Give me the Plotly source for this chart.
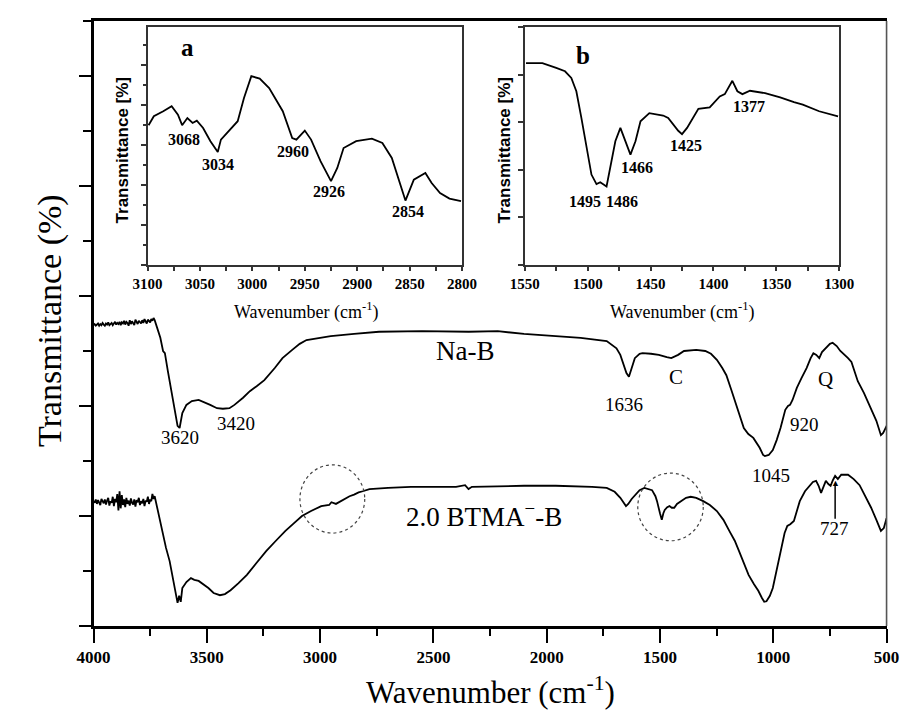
import plotly.graph_objects as go

# ---------------- data ----------------
# noisy plateau at the high-wavenumber end (shared grid)
noise_wn = [4000, 3995, 3990, 3985, 3980, 3975, 3970, 3965, 3960, 3955,
            3950, 3945, 3940, 3935, 3930, 3925, 3920, 3915, 3910, 3905,
            3900, 3895, 3890, 3885, 3880, 3875, 3870, 3865, 3860, 3855,
            3850, 3845, 3840, 3835, 3830, 3825, 3820, 3815, 3810, 3805,
            3800, 3795, 3790, 3785, 3780, 3775, 3770, 3765, 3760, 3755,
            3750, 3745, 3740, 3735, 3730]
nab_noise_t = [5.47, 5.49, 5.46, 5.48, 5.50, 5.46, 5.49, 5.47, 5.51, 5.48,
               5.46, 5.50, 5.48, 5.52, 5.47, 5.49, 5.51, 5.47, 5.50, 5.53,
               5.48, 5.51, 5.49, 5.53, 5.47, 5.52, 5.50, 5.55, 5.48, 5.53,
               5.51, 5.46, 5.56, 5.49, 5.54, 5.50, 5.47, 5.57, 5.51, 5.49,
               5.55, 5.52, 5.50, 5.56, 5.51, 5.58, 5.53, 5.50, 5.57, 5.54,
               5.52, 5.58, 5.55, 5.60, 5.56]
btma_noise_t = [2.27, 2.24, 2.30, 2.22, 2.29, 2.25, 2.20, 2.31, 2.26, 2.23,
                2.30, 2.21, 2.28, 2.33, 2.19, 2.27, 2.24, 2.35, 2.18, 2.31,
                2.25, 2.40, 2.10, 2.45, 2.14, 2.38, 2.20, 2.30, 2.16, 2.33,
                2.22, 2.28, 2.19, 2.32, 2.24, 2.21, 2.30, 2.17, 2.29, 2.25,
                2.33, 2.20, 2.27, 2.23, 2.31, 2.18, 2.28, 2.26, 2.35, 2.22,
                2.30, 2.27, 2.40, 2.31, 2.36]

# main spectrum, Na-B
nab_wn = [3719, 3705, 3693, 3685, 3672, 3650, 3629, 3620, 3608, 3590, 3566, 3536, 3510, 3485, 3455,
          3429, 3400, 3378, 3340, 3310, 3280, 3246, 3200, 3166, 3123, 3090, 3060, 3000, 2953, 2850,
          2740, 2550, 2344, 2216, 2100, 1960, 1850, 1735, 1692, 1675, 1662, 1648, 1637, 1625, 1611,
          1590, 1577, 1540, 1505, 1470, 1450, 1420, 1394, 1340, 1300, 1275, 1249, 1225, 1207, 1185,
          1164, 1145, 1130, 1110, 1088, 1060, 1045, 1037, 1020, 1002, 985, 968, 947, 935, 926, 915,
          896, 875, 853, 835, 823, 810, 797, 785, 768, 750, 738, 720, 704, 690, 670, 655, 640, 627,
          600, 568, 545, 525, 515, 504, 500]
nab_t = [5.42, 5.24, 5.00, 4.96, 4.64, 4.15, 3.64, 3.60, 3.87, 4.02, 4.09, 4.11, 4.07, 4.02, 3.96,
         3.95, 3.96, 4.02, 4.15, 4.27, 4.36, 4.47, 4.69, 4.87, 5.02, 5.13, 5.20, 5.24, 5.27, 5.31,
         5.35, 5.36, 5.35, 5.36, 5.31, 5.27, 5.24, 5.18, 5.05, 4.93, 4.75, 4.60, 4.53, 4.69, 4.87,
         4.95, 4.96, 4.95, 4.93, 4.89, 4.87, 4.93, 5.00, 5.02, 5.00, 4.95, 4.84, 4.69, 4.56, 4.29,
         4.02, 3.78, 3.60, 3.49, 3.42, 3.24, 3.11, 3.09, 3.11, 3.20, 3.38, 3.60, 3.93, 4.00, 4.02, 4.11,
         4.33, 4.51, 4.69, 4.87, 4.96, 4.93, 4.87, 4.98, 5.05, 5.13, 5.15, 5.09, 5.00, 4.95, 4.87, 4.80,
         4.62, 4.45, 4.24, 3.96, 3.73, 3.47, 3.51, 3.60, 3.64]

# main spectrum, 2.0 BTMA--B
btma_wn = [3719, 3705, 3693, 3680, 3664, 3645, 3632, 3629, 3622, 3615, 3608, 3590, 3570, 3555, 3536,
           3510, 3493, 3470, 3442, 3420, 3395, 3360, 3323, 3280, 3238, 3195, 3153, 3115, 3080, 3040,
           2995, 2960, 2950, 2930, 2910, 2890, 2870, 2850, 2830, 2812, 2782, 2700, 2599, 2400, 2360,
           2345, 2330, 2100, 1960, 1800, 1735, 1700, 1675, 1650, 1640, 1625, 1611, 1590, 1569, 1548,
           1535, 1520, 1513, 1500, 1492, 1485, 1479, 1468, 1458, 1448, 1437, 1425, 1407, 1385, 1364,
           1340, 1309, 1280, 1249, 1220, 1194, 1170, 1151, 1130, 1109, 1085, 1066, 1050, 1040, 1030,
           1015, 1002, 985, 968, 950, 938, 925, 909, 895, 883, 860, 840, 825, 811, 800, 789, 778, 768,
           757, 747, 737, 727, 715, 700, 670, 645, 619, 595, 568, 545, 525, 512, 504, 500]
btma_t = [2.15, 1.91, 1.65, 1.42, 1.18, 0.78, 0.47, 0.42, 0.55, 0.44, 0.69, 0.80, 0.87, 0.84, 0.82,
          0.75, 0.69, 0.60, 0.56, 0.58, 0.65, 0.78, 0.93, 1.15, 1.36, 1.55, 1.73, 1.87, 2.00, 2.09,
          2.18, 2.20, 2.25, 2.22, 2.27, 2.31, 2.36, 2.39, 2.43, 2.45, 2.49, 2.51, 2.53, 2.53, 2.56,
          2.49, 2.53, 2.55, 2.55, 2.53, 2.51, 2.44, 2.33, 2.18, 2.22, 2.31, 2.38, 2.47, 2.51, 2.49,
          2.47, 2.36, 2.27, 2.05, 1.93, 2.05, 2.11, 2.16, 2.18, 2.15, 2.15, 2.22, 2.27, 2.33, 2.35,
          2.33, 2.27, 2.20, 2.09, 1.93, 1.73, 1.55, 1.36, 1.15, 0.93, 0.76, 0.64, 0.51, 0.44, 0.45,
          0.55, 0.69, 1.00, 1.36, 1.69, 1.82, 1.85, 1.91, 2.09, 2.27, 2.45, 2.56, 2.62, 2.64, 2.55,
          2.42, 2.55, 2.64, 2.58, 2.55, 2.65, 2.73, 2.67, 2.75, 2.75, 2.67, 2.56, 2.38, 2.15, 1.93,
          1.73, 1.78, 1.91, 1.96]

# inset a (3100-2800 cm-1)
a_wn = [3099, 3094, 3085, 3077, 3071, 3067, 3062, 3057, 3053, 3047, 3040, 3033, 3030, 3024, 3014,
        3008, 3001, 2993, 2984, 2971, 2962, 2958, 2950, 2944, 2935, 2925, 2919, 2913, 2901, 2886,
        2876, 2867, 2860, 2854, 2846, 2835, 2829, 2821, 2812, 2801]
a_t = [6.99, 7.44, 7.69, 7.94, 7.52, 6.99, 7.35, 7.10, 7.22, 6.85, 6.19, 5.65, 6.27, 6.60, 7.19,
       8.35, 9.44, 9.32, 8.85, 7.69, 6.35, 6.27, 6.72, 6.27, 5.19, 4.19, 4.85, 5.85, 6.19, 6.32,
       6.10, 5.35, 4.19, 3.22, 4.27, 4.60, 4.10, 3.60, 3.32, 3.19]

# inset b (1550-1300 cm-1)
b_wn = [1549, 1536, 1525, 1518, 1513, 1509, 1505, 1501, 1497, 1493, 1490, 1485, 1482, 1478, 1474,
        1470, 1466, 1462, 1458, 1451, 1440, 1436, 1428, 1425, 1421, 1412, 1403, 1395, 1391, 1385,
        1381, 1377, 1371, 1359, 1347, 1336, 1329, 1316, 1301]
b_t = [4.24, 4.24, 4.14, 4.07, 3.93, 3.65, 3.09, 2.46, 1.90, 1.70, 1.74, 1.65, 2.04, 2.60, 2.88,
       2.60, 2.32, 2.60, 3.02, 3.19, 3.14, 3.09, 2.82, 2.75, 2.88, 3.28, 3.31, 3.54, 3.59, 3.87,
       3.65, 3.59, 3.66, 3.61, 3.52, 3.42, 3.37, 3.23, 3.12]

# tick labels
main_ticks = [4000, 3500, 3000, 2500, 2000, 1500, 1000, 500]
a_ticks = [3100, 3050, 3000, 2950, 2900, 2850, 2800]
b_ticks = [1550, 1500, 1450, 1400, 1350, 1300]

# peak labels: (text, wavenumber, transmittance)
main_labels = [("3620", 3617, 3.42), ("3420", 3370, 3.69), ("1636", 1658, 4.02),
               ("1045", 1011, 2.73), ("920", 862, 3.67), ("727", 730, 1.78)]
main_letters = [("C", 1428, 4.53), ("Q", 768, 4.49)]
series_labels = [("Na-B", 2361, 5.0), ("2.0 BTMA<sup>\u2212</sup>-B", 2276, 2.02)]
a_labels = [("3068", 3065, 6.25), ("3034", 3033, 5.0), ("2960", 2961, 5.65),
            ("2926", 2927, 3.65), ("2854", 2852, 2.65)]
b_labels = [("1495", 1502.5, 1.34), ("1486", 1472.5, 1.34), ("1466", 1461, 2.04),
            ("1425", 1422, 2.50), ("1377", 1372, 3.34)]

# ---------------- figure ----------------
W, H = 909, 713
SERIF = "Liberation Serif"
SANS = "Liberation Sans"


def px_dom(a, b, total):
    return [a / total, b / total]


def py_dom(top, bottom):
    return [1 - bottom / H, 1 - top / H]


fig = go.Figure()
line = dict(color="black", width=1.8)
fig.add_trace(go.Scatter(x=noise_wn + nab_wn, y=nab_noise_t + nab_t, mode="lines",
                         line=line, xaxis="x", yaxis="y", showlegend=False))
fig.add_trace(go.Scatter(x=noise_wn + btma_wn, y=btma_noise_t + btma_t, mode="lines",
                         line=line, xaxis="x", yaxis="y", showlegend=False))
fig.add_trace(go.Scatter(x=a_wn, y=a_t, mode="lines", line=dict(color="black", width=1.8),
                         xaxis="x2", yaxis="y2", showlegend=False))
fig.add_trace(go.Scatter(x=b_wn, y=b_t, mode="lines", line=dict(color="black", width=1.8),
                         xaxis="x3", yaxis="y3", showlegend=False))

tickfont_main = dict(family=SERIF, size=17, color="black", weight="bold")
tickfont_in = dict(family=SERIF, size=15, color="black", weight="bold")

fig.update_layout(
    width=W, height=H, margin=dict(l=0, r=0, t=0, b=0),
    paper_bgcolor="white", plot_bgcolor="white", showlegend=False,
    xaxis=dict(domain=px_dom(71, 893, W), range=[4000, 500], tickmode="array",
               tickvals=main_ticks, ticktext=[str(v) for v in main_ticks],
               ticks="outside", ticklen=14, tickwidth=2, tickcolor="black",
               minor=dict(dtick=250, tick0=500, ticks="outside", ticklen=7, tickwidth=2,
                          tickcolor="black"),
               showline=True, linecolor="black", linewidth=2.5, mirror=True,
               showgrid=False, zeroline=False, tickfont=tickfont_main, anchor="y"),
    yaxis=dict(domain=py_dom(13, 618), range=[0, 11], tickmode="array",
               tickvals=[0, 2, 4, 6, 8, 10], showticklabels=False,
               ticks="outside", ticklen=12, tickwidth=2, tickcolor="black",
               minor=dict(dtick=1, tick0=0, ticks="outside", ticklen=8, tickwidth=2,
                          tickcolor="black"),
               showline=True, linecolor="black", linewidth=2.5, mirror=False,
               showgrid=False, zeroline=False, anchor="x"),
    xaxis2=dict(domain=px_dom(127, 453, W), range=[3100, 2800], tickmode="array",
                tickvals=a_ticks, ticktext=[str(v) for v in a_ticks],
                ticks="outside", ticklen=4, tickwidth=1.5, tickcolor="#333",
                minor=dict(dtick=25, tick0=2800, ticks="outside", ticklen=4, tickwidth=1.5,
                           tickcolor="#333"),
                showline=True, linecolor="#333", linewidth=1.5, mirror=True,
                showgrid=False, zeroline=False, tickfont=tickfont_in, anchor="y2"),
    yaxis2=dict(domain=py_dom(19, 257), range=[0, 11.9], tickmode="array",
                tickvals=[0, 2, 4, 6, 8, 10], showticklabels=False,
                ticks="outside", ticklen=5, tickwidth=1.5, tickcolor="#333",
                minor=dict(dtick=1, tick0=0, ticks="outside", ticklen=3, tickwidth=1.5,
                           tickcolor="#333"),
                showline=True, linecolor="#333", linewidth=1.5, mirror=True,
                showgrid=False, zeroline=False, anchor="x2"),
    xaxis3=dict(domain=px_dom(518, 844, W), range=[1550, 1300], tickmode="array",
                tickvals=b_ticks, ticktext=[str(v) for v in b_ticks],
                ticks="outside", ticklen=4, tickwidth=1.5, tickcolor="#333",
                minor=dict(dtick=25, tick0=1300, ticks="outside", ticklen=4, tickwidth=1.5,
                           tickcolor="#333"),
                showline=True, linecolor="#333", linewidth=1.5, mirror=True,
                showgrid=False, zeroline=False, tickfont=tickfont_in, anchor="y3"),
    yaxis3=dict(domain=py_dom(19, 257), range=[0, 5], tickmode="array",
                tickvals=[0, 1, 2, 3, 4, 5], showticklabels=False,
                ticks="outside", ticklen=5, tickwidth=1.5, tickcolor="#333",
                showline=True, linecolor="#333", linewidth=1.5, mirror=True,
                showgrid=False, zeroline=False, anchor="x3"),
)

# right border of main frame (grey, thinner)
fig.add_shape(type="line", xref="paper", yref="paper", x0=893 / W, x1=893 / W,
              y0=1 - 618 / H, y1=1 - 13 / H, line=dict(color="#555", width=1.6))

# dashed circles
fig.add_shape(type="circle", xref="x", yref="y", x0=3089, x1=2803, y0=1.69, y1=2.93,
              line=dict(color="#444", width=1.2, dash="dot"))
fig.add_shape(type="circle", xref="x", yref="y", x0=1598, x1=1309, y0=1.55, y1=2.78,
              line=dict(color="#444", width=1.2, dash="dot"))

# arrow to the 727 band
fig.add_shape(type="line", xref="x", yref="y", x0=727, x1=727, y0=1.95, y1=2.55,
              line=dict(color="black", width=1.5))

ann = []
for t, x, y in main_labels:
    ann.append(dict(text=t, x=x, y=y, xref="x", yref="y", showarrow=False,
                    font=dict(family=SERIF, size=19, color="black")))
for t, x, y in main_letters:
    ann.append(dict(text=t, x=x, y=y, xref="x", yref="y", showarrow=False,
                    font=dict(family=SERIF, size=21, color="black")))
for t, x, y in series_labels:
    ann.append(dict(text=t, x=x, y=y, xref="x", yref="y", showarrow=False,
                    font=dict(family=SERIF, size=27, color="black")))
for t, x, y in a_labels:
    ann.append(dict(text=t, x=x, y=y, xref="x2", yref="y2", showarrow=False,
                    font=dict(family=SERIF, size=16, color="black", weight="bold")))
for t, x, y in b_labels:
    ann.append(dict(text=t, x=x, y=y, xref="x3", yref="y3", showarrow=False,
                    font=dict(family=SERIF, size=16, color="black", weight="bold")))
# panel letters
ann.append(dict(text="a", x=3062, y=10.85, xref="x2", yref="y2", showarrow=False,
                font=dict(family=SERIF, size=25, color="black", weight="bold")))
ann.append(dict(text="b", x=1504, y=4.41, xref="x3", yref="y3", showarrow=False,
                font=dict(family=SERIF, size=25, color="black", weight="bold")))
# arrow head for 727
ann.append(dict(text="\u25B2", x=727, y=2.60, xref="x", yref="y", showarrow=False,
                font=dict(family=SANS, size=9, color="black")))
# axis titles
ann.append(dict(text="Wavenumber (cm<sup>-1</sup>)", x=482 / W, y=1 - 682 / H,
                xref="paper", yref="paper", showarrow=False, xanchor="center", yanchor="middle",
                font=dict(family=SERIF, size=31, color="black")))
ann.append(dict(text="Transmittance (%)", x=26 / W, y=1 - 313 / H, textangle=-90,
                xref="paper", yref="paper", showarrow=False, xanchor="center", yanchor="middle",
                font=dict(family=SERIF, size=34, color="black")))
for cx in (292, 682):
    ann.append(dict(text="Wavenumber (cm<sup>-1</sup>)", x=cx / W, y=1 - 303 / H,
                    xref="paper", yref="paper", showarrow=False, xanchor="center",
                    yanchor="middle", font=dict(family=SERIF, size=18, color="black")))
for cx in (102, 498):
    ann.append(dict(text="Transmittance [%]", x=cx / W, y=1 - 142 / H, textangle=-90,
                    xref="paper", yref="paper", showarrow=False, xanchor="center",
                    yanchor="middle", font=dict(family=SANS, size=17, color="black",
                                                weight="bold")))
fig.update_layout(annotations=ann)

fig.write_html("out.html")
